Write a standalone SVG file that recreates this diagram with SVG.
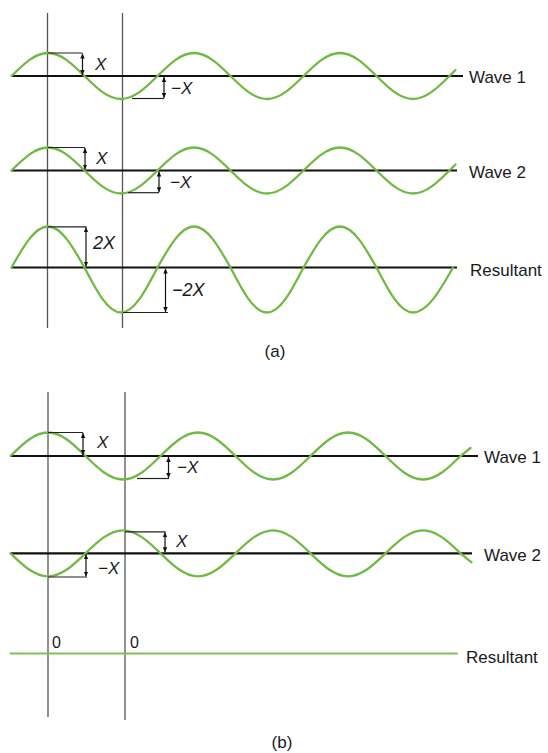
<svg xmlns="http://www.w3.org/2000/svg" width="548" height="753" viewBox="0 0 548 753">
<style>
.bg{fill:#ffffff}
.wave{fill:none;stroke:#6fba45;stroke-width:2.3;stroke-linecap:round}
.axis{fill:none;stroke:#111111;stroke-width:2.2}
.vline{fill:none;stroke:#555555;stroke-width:1.3}
.brk{fill:none;stroke:#222222;stroke-width:1.2}
.dim{fill:none;stroke:#111111;stroke-width:1.2;marker-start:url(#ah);marker-end:url(#ah)}
.lbl{font-family:"Liberation Sans",Arial,sans-serif;font-size:17px;fill:#1a1a1a}
.var{font-family:"Liberation Sans",Arial,sans-serif;font-size:17px;font-style:italic;fill:#1a1a1a}
.var2{font-family:"Liberation Sans",Arial,sans-serif;font-size:18px;font-style:italic;fill:#1a1a1a}
.zero{font-family:"Liberation Sans",Arial,sans-serif;font-size:16px;fill:#1a1a1a}
</style>
<defs>
<marker id="ah" viewBox="0 0 10 10" refX="10" refY="5" markerWidth="5" markerHeight="5" markerUnits="userSpaceOnUse" orient="auto-start-reverse">
<path d="M0,0.5 L10,5 L0,9.5 z" fill="#111111"/>
</marker>
</defs>
<rect class="bg" x="0" y="0" width="548" height="753"/>

<g id="panel-a-guides">
<line class="vline" x1="47.5" y1="13" x2="47.5" y2="328"/>
<line class="vline" x1="122.5" y1="13" x2="122.5" y2="328"/>
</g>

<g id="a-wave1">
<line class="axis" x1="11" y1="76" x2="463" y2="76"/>
<path class="wave" d="M11.5,76 c11.9,-11.78 23.29,-23 36.5,-23 c13.21,0 24.6,11.22 36.5,23 c11.9,11.78 23.29,23 36.5,23 c13.21,0 24.6,-11.22 36.5,-23 c11.9,-11.78 23.29,-23 36.5,-23 c13.21,0 24.6,11.22 36.5,23 c11.9,11.78 23.29,23 36.5,23 c13.21,0 24.6,-11.22 36.5,-23 c11.9,-11.78 23.29,-23 36.5,-23 c13.21,0 24.6,11.22 36.5,23 c11.9,11.78 23.29,23 36.5,23 c13.21,0 24.6,-11.22 36.5,-23 l6,-6"/>
<text class="lbl" x="469" y="83">Wave 1</text>
</g>

<g id="a-wave2">
<line class="axis" x1="11" y1="170.5" x2="457" y2="170.5"/>
<path class="wave" d="M11.5,170.5 c11.9,-11.78 23.29,-23 36.5,-23 c13.21,0 24.6,11.22 36.5,23 c11.9,11.78 23.29,23 36.5,23 c13.21,0 24.6,-11.22 36.5,-23 c11.9,-11.78 23.29,-23 36.5,-23 c13.21,0 24.6,11.22 36.5,23 c11.9,11.78 23.29,23 36.5,23 c13.21,0 24.6,-11.22 36.5,-23 c11.9,-11.78 23.29,-23 36.5,-23 c13.21,0 24.6,11.22 36.5,23 c11.9,11.78 23.29,23 36.5,23 c13.21,0 24.6,-11.22 36.5,-23 l6,-6"/>
<text class="lbl" x="469" y="178">Wave 2</text>
</g>

<g id="a-resultant">
<line class="axis" x1="11" y1="267.5" x2="457" y2="267.5"/>
<path class="wave" d="M11.5,267.5 c11.9,-21 23.29,-41 36.5,-41 c13.21,0 24.6,20 36.5,41 c11.9,23.05 23.29,45 36.5,45 c13.21,0 24.6,-21.95 36.5,-45 c11.9,-21 23.29,-41 36.5,-41 c13.21,0 24.6,20 36.5,41 c11.9,23.05 23.29,45 36.5,45 c13.21,0 24.6,-21.95 36.5,-45 c11.9,-21 23.29,-41 36.5,-41 c13.21,0 24.6,20 36.5,41 c11.9,23.05 23.29,45 36.5,45 c14.48,0 26.96,-21.95 40,-45"/>
<text class="lbl" x="470" y="276">Resultant</text>
</g>

<g id="label-a">
<text class="lbl" x="275" y="357" text-anchor="middle">(a)</text>
</g>

<g id="panel-b-guides">
<line class="vline" x1="48" y1="392" x2="48" y2="717"/>
<line class="vline" x1="125" y1="392" x2="125" y2="720"/>
</g>

<g id="b-wave1">
<line class="axis" x1="11" y1="456" x2="478" y2="456"/>
<path class="wave" d="M10.5,456 c12.23,-12.04 23.93,-23.5 37.5,-23.5 c13.57,0 25.27,11.46 37.5,23.5 c12.23,12.04 23.93,23.5 37.5,23.5 c13.57,0 25.27,-11.46 37.5,-23.5 c12.23,-12.04 23.93,-23.5 37.5,-23.5 c13.57,0 25.27,11.46 37.5,23.5 c12.23,12.04 23.93,23.5 37.5,23.5 c13.57,0 25.27,-11.46 37.5,-23.5 c12.23,-12.04 23.93,-23.5 37.5,-23.5 c13.57,0 25.27,11.46 37.5,23.5 c12.23,12.04 23.93,23.5 37.5,23.5 c13.57,0 25.27,-11.46 37.5,-23.5 l10,-8"/>
<text class="lbl" x="484" y="463">Wave 1</text>
</g>

<g id="b-wave2">
<line class="axis" x1="11" y1="553.3" x2="472" y2="553.3"/>
<path class="wave" d="M10.5,553.3 c12.23,11.78 23.93,23 37.5,23 c13.57,0 25.27,-11.22 37.5,-23 c12.23,-11.78 23.93,-23 37.5,-23 c13.57,0 25.27,11.22 37.5,23 c12.23,11.78 23.93,23 37.5,23 c13.57,0 25.27,-11.22 37.5,-23 c12.23,-11.78 23.93,-23 37.5,-23 c13.57,0 25.27,11.22 37.5,23 c12.23,11.78 23.93,23 37.5,23 c13.57,0 25.27,-11.22 37.5,-23 c12.23,-11.78 23.93,-23 37.5,-23 c13.57,0 25.27,11.22 37.5,23 l11,9"/>
<text class="lbl" x="484" y="561">Wave 2</text>
</g>

<g id="b-resultant">
<line class="wave" x1="10.5" y1="653.5" x2="457" y2="653.5" style="stroke:#7cc352;stroke-width:2"/>
<text class="zero" x="52" y="648">0</text>
<text class="zero" x="130" y="648">0</text>
<text class="lbl" x="466" y="663">Resultant</text>
</g>

<g id="label-b">
<text class="lbl" x="282" y="748" text-anchor="middle">(b)</text>
</g>

<g id="connectors">
<polyline class="brk" points="48,53 82.5,53"/>
<line class="dim" x1="82.5" y1="53.5" x2="82.5" y2="75"/>
<text class="var" x="95" y="70">X</text>
<polyline class="brk" points="132,98.5 164,98.5"/>
<line class="dim" x1="164" y1="77" x2="164" y2="98"/>
<text class="var" x="171" y="94">−X</text>
<polyline class="brk" points="48,147.5 85,147.5"/>
<line class="dim" x1="85" y1="148" x2="85" y2="169.5"/>
<text class="var" x="96" y="164">X</text>
<polyline class="brk" points="128,192.7 159,192.7"/>
<line class="dim" x1="159" y1="171.5" x2="159" y2="192.2"/>
<text class="var" x="170" y="188">−X</text>
<polyline class="brk" points="48,226.8 86.5,226.8"/>
<line class="dim" x1="86" y1="227.3" x2="86" y2="266.5"/>
<text class="var2" x="93" y="249">2X</text>
<polyline class="brk" points="123,312.5 168,312.5"/>
<line class="dim" x1="165.5" y1="268.5" x2="165.5" y2="312"/>
<text class="var2" x="172" y="296">−2X</text>
<polyline class="brk" points="48,432.5 83,432.5"/>
<line class="dim" x1="83" y1="433" x2="83" y2="455"/>
<text class="var" x="97" y="448">X</text>
<polyline class="brk" points="137,478.5 169,478.5"/>
<line class="dim" x1="168.5" y1="457" x2="168.5" y2="478"/>
<text class="var" x="177" y="473">−X</text>
<polyline class="brk" points="125,531.8 165.5,531.8"/>
<line class="dim" x1="165" y1="532.3" x2="165" y2="552.3"/>
<text class="var" x="176" y="547">X</text>
<polyline class="brk" points="48,577 87,577"/>
<line class="dim" x1="86" y1="554.3" x2="86" y2="576.5"/>
<text class="var" x="98" y="574">−X</text>
</g>
</svg>
